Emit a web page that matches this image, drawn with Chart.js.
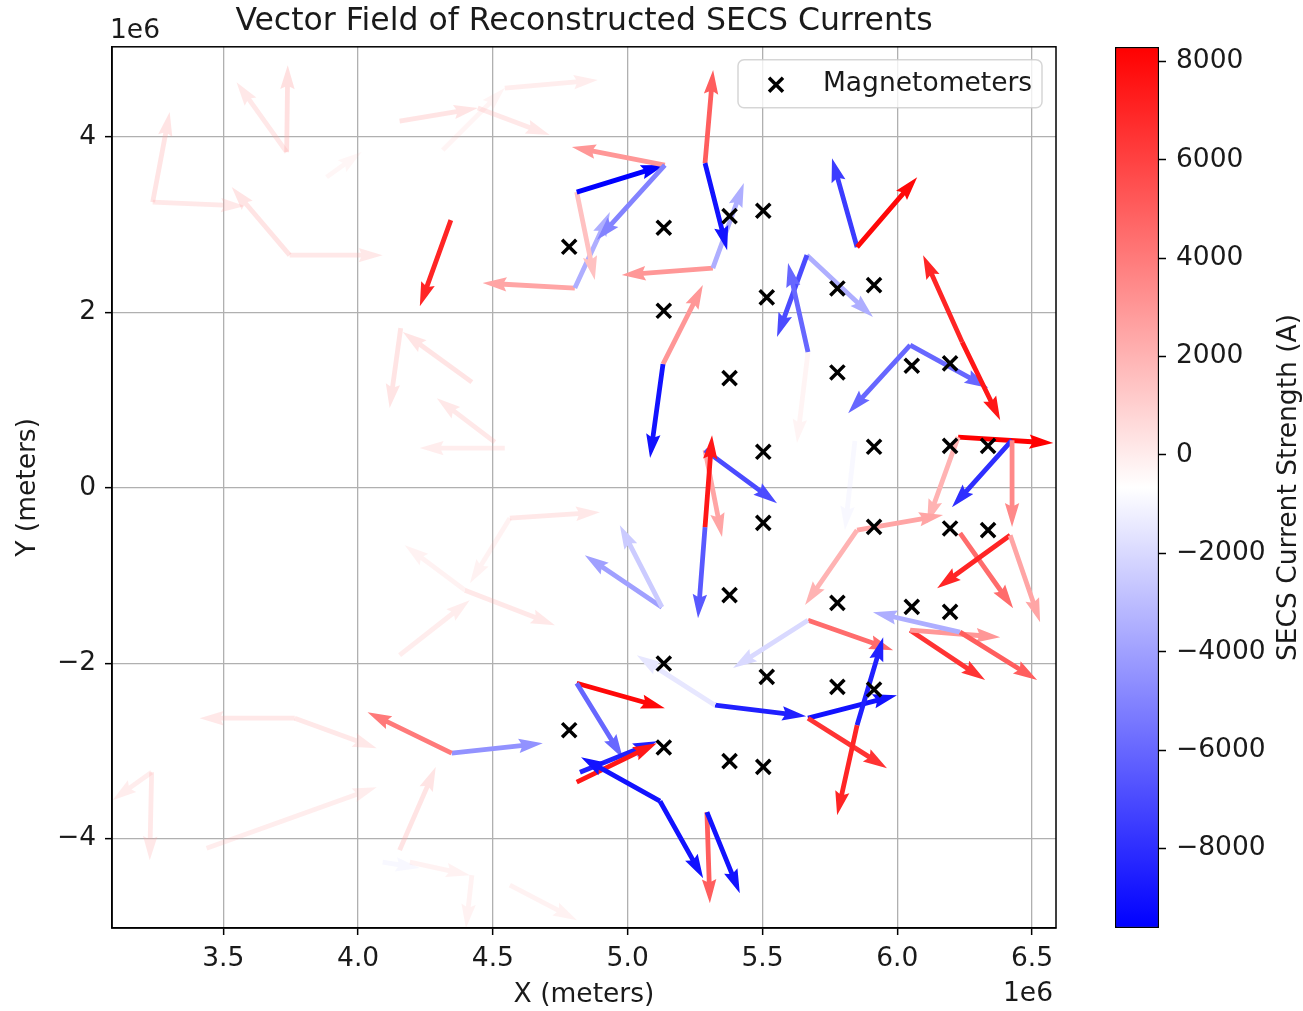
<!DOCTYPE html>
<html>
<head>
<meta charset="utf-8">
<title>Vector Field of Reconstructed SECS Currents</title>
<script src="https://cdn.jsdelivr.net/npm/chart.js@4.4.1/dist/chart.umd.min.js"></script>
<style>
    body { margin: 0; background: #fff; }
    #wrap { position: relative; width: 1303px; height: 1011px; }
    #chart { position: absolute; left: 0; top: 0; }
    #cbar { position: absolute; left: 1100px; top: 0; }
</style>
</head>
<body>
<div id="wrap">
    <canvas id="chart" width="1303" height="1011"></canvas>
    <canvas id="cbar" width="203" height="1011"></canvas>
</div>
<script>
// all positions in units of 1e6 m (axis offset "1e6", like matplotlib)
const xTicks = [3.5, 4.0, 4.5, 5.0, 5.5, 6.0, 6.5];
const yTicks = [-4, -2, 0, 2, 4];
const cbTicks = [-8000, -6000, -4000, -2000, 0, 2000, 4000, 6000, 8000];
const xMin = 3.087, xMax = 6.589;
const yMin = -5.02, yMax = 5.03;
const cbMin = -9617, cbMax = 8294;

// magnetometer stations
const magX = [4.783, 5.134, 5.378, 5.503, 5.134, 5.516, 5.778, 5.914, 5.378, 5.778, 6.054, 6.196,
    5.503, 5.914, 6.196, 6.337, 5.503, 5.914, 6.196, 6.337, 5.378, 5.778, 6.054, 6.196,
    5.134, 5.516, 5.778, 5.914, 4.783, 5.134, 5.378, 5.503];
const magY = [2.749, 2.966, 3.099, 3.160, 2.019, 2.172, 2.274, 2.312, 1.251, 1.316, 1.392, 1.419,
    0.411, 0.468, 0.479, 0.479, -0.399, -0.445, -0.463, -0.482, -1.224, -1.312, -1.357, -1.414,
    -2.004, -2.156, -2.270, -2.300, -2.764, -2.961, -3.117, -3.182];

// SECS current vectors: tail (x, y), components (u, v), strength in A, weight (opacity)
const arrowX = [3.238, 3.238, 3.746, 3.746, 3.735, 3.735, 4.154, 4.444, 4.544, 4.314, 3.883,
    4.158, 4.422, 4.507, 4.544, 4.563, 4.563, 4.396, 4.396, 4.154, 3.765, 3.765, 3.234, 3.234,
    3.438, 4.154, 4.192, 4.422, 4.563, 4.091,
    4.344, 4.804, 4.804, 4.811, 4.811, 5.138, 5.138, 5.316, 5.316, 5.131, 5.131, 5.287, 5.287,
    5.851, 5.851, 5.665, 5.665, 5.669, 5.669, 6.048, 6.048, 6.241, 6.241, 6.226, 6.226, 6.426,
    6.426, 5.287, 5.287, 5.287, 5.287, 5.843, 5.851, 5.851, 6.233, 6.419, 6.419, 5.127, 5.127,
    5.669, 5.669, 6.048, 6.048, 6.233, 6.233, 4.811, 4.811, 5.324, 5.324, 5.669, 5.669, 5.851,
    5.851, 4.347, 4.347, 4.823, 4.811, 5.120, 5.120, 5.294, 5.294];
const arrowY = [3.259, 3.259, 2.654, 2.654, 3.829, 3.829, 4.183, 4.331, 4.559, 3.852, 3.544,
    1.822, 1.206, 0.521, 0.453, -0.346, -0.346, -1.167, -1.167, -1.908, -2.627, -2.627, -3.243, -3.243,
    -4.110, -4.132, -4.269, -4.417, -4.532, -4.269,
    3.053, 2.278, 2.278, 3.373, 3.373, 3.681, 3.681, 2.506, 2.506, 1.411, 1.411, 3.703, 3.703,
    2.745, 2.745, 2.654, 2.654, 1.548, 1.548, 1.628, 1.628, 1.662, 1.662, 0.578, 0.578, 0.544,
    0.544, 0.430, 0.430, -0.448, -0.448, 0.533, -0.482, -0.482, -0.517, -0.540, -0.540, -1.361, -1.361,
    -1.509, -1.509, -1.623, -1.623, -1.646, -1.646, -2.228, -2.228, -2.479, -2.479, -2.627, -2.627, -2.707,
    -2.707, -3.026, -3.026, -3.243, -3.357, -3.574, -3.574, -3.699, -3.699];
const arrowU = [0.063, 0.342, -0.215, 0.345, 0.004, -0.186, 0.290, 0.267, 0.345, 0.230, 0.130,
    -0.041, -0.256, -0.215, -0.316, 0.334, -0.148, 0.334, -0.223, 0.260, -0.353, 0.304, -0.007, -0.145,
    0.631, 0.134, 0.223, -0.022, 0.249, 0.137,
    -0.115, -0.342, 0.130, 0.067, 0.327, -0.345, -0.252, -0.338, 0.115, 0.148, -0.048, 0.030, 0.082,
    -0.093, 0.223, 0.245, -0.111, -0.074, -0.041, -0.230, 0.290, -0.145, 0.141, 0.353, -0.115, -0.223,
    0.000, 0.063, 0.267, -0.026, 0.026, -0.037, 0.319, -0.193, 0.197, -0.271, 0.111, -0.286, -0.156,
    0.316, -0.278, 0.278, 0.334, -0.323, 0.286, 0.327, 0.171, 0.338, -0.290, 0.330, 0.293, 0.097,
    -0.074, 0.338, -0.312, 0.286, 0.297, -0.293, 0.160, 0.011, 0.122];
const arrowV = [1.027, -0.046, 0.776, 0.000, 0.992, 0.798, 0.148, -0.308, 0.091, 0.707, 0.285,
    -0.912, 0.570, 0.502, 0.000, 0.068, -0.741, -0.399, 0.513, 0.627, 0.000, -0.342, -1.004, -0.319,
    0.696, 0.947, -0.148, -0.605, -0.399, -0.068,
    -0.981, 0.057, 0.867, -1.004, 0.308, 0.205, -0.855, -0.080, 0.970, 0.901, -1.072, 1.061, -0.992,
    1.015, 0.798, -0.707, -0.935, 1.015, -1.038, -0.776, -0.490, 0.992, -0.890, -0.068, -0.981, -0.764,
    -0.992, -0.992, -0.605, -1.038, 1.049, -1.015, 0.171, -0.855, -0.855, -0.605, -0.992, 0.593, 0.935,
    -0.342, -0.547, -0.570, -0.080, 0.228, -0.547, -0.285, -0.855, -0.125, 0.570, 0.262, -0.570, 1.004,
    -1.027, 0.114, 0.468, 0.354, 0.445, 0.502, -0.878, -1.038, -0.924];
const arrowStrength = [2500, 2500, 2500, 2500, 2500, 2500, 2500, 2500, 2500, 2500, 2500,
    2500, 2500, 2500, 2500, 2500, 2500, 2500, 2500, 2500, 2500, 2500, 2500, 2500,
    2500, 2500, 2500, 2500, 2500, -3000,
    7000, 2500, -3500, 1500, -9600, 3000, -5000, 3000, -3500, 3000, -9000, 5000, -9000,
    -7500, 8000, -3500, -7000, -6000, 0, -6000, -6000, 7000, 7500, 8300, 2000, -8000,
    3500, 2500, -7000, -6500, 7500, -1500, 2500, 2000, 4500, 7000, 2500, -4000, -2500,
    4500, -2000, 6500, 3000, -3500, 5000, 8000, -6000, -8500, -1500, -9000, 6500, -8500,
    7000, -4500, 4000, -8500, 7500, -9000, -9000, 5000, -9000];
const arrowWeight = [0.3, 0.25, 0.3, 0.25, 0.35, 0.25, 0.3, 0.25, 0.2, 0.12, 0.1,
    0.3, 0.3, 0.25, 0.2, 0.25, 0.15, 0.25, 0.15, 0.2, 0.25, 0.25, 0.25, 0.2,
    0.2, 0.3, 0.15, 0.15, 0.15, 0.1,
    1, 1, 1, 1, 1, 1, 1, 1, 1, 1, 1, 1, 1,
    1, 1, 1, 1, 1, 0.6, 1, 1, 1, 1, 1, 1, 1,
    1, 1, 1, 1, 1, 0.3, 1, 1, 1, 1, 1, 1, 1,
    1, 1, 1, 1, 1, 1, 1, 1, 1, 1, 1, 1, 1,
    1, 1, 1, 1, 1, 1, 1, 1, 1];

const FONT = "'DejaVu Sans', sans-serif";
const FS = 26.5;
Chart.defaults.font.family = FONT;
Chart.defaults.color = "#1a1a1a";

// matplotlib "bwr" colormap
function bwr(v) {
    let t = (v - cbMin) / (cbMax - cbMin);
    t = Math.max(0, Math.min(1, t));
    if (t < 0.5) {
        const c = Math.round(510 * t);
        return `rgb(${c},${c},255)`;
    }
    const c = Math.round(510 * (1 - t));
    return `rgb(255,${c},${c})`;
}

const minus = (s) => String(s).replace("-", "\u2212");

function drawArrow(ctx, x0, y0, x1, y1, color, alpha) {
    const dx = x1 - x0, dy = y1 - y0;
    const L = Math.hypot(dx, dy);
    if (L < 1) return;
    const ux = dx / L, uy = dy / L;
    const nx = -uy, ny = ux;
    const w = 4.8;
    const hw = 1.5 * w, hl = 5 * w, hal = 4.5 * w;
    const pts = [[0, -w / 2], [L - hal, -w / 2], [L - hl, -hw], [L, 0], [L - hl, hw], [L - hal, w / 2], [0, w / 2]];
    ctx.globalAlpha = alpha;
    ctx.fillStyle = color;
    ctx.beginPath();
    pts.forEach(([a, b], i) => {
        const px = x0 + ux * a + nx * b, py = y0 + uy * a + ny * b;
        if (i === 0) ctx.moveTo(px, py); else ctx.lineTo(px, py);
    });
    ctx.closePath();
    ctx.fill();
}

const quiverPlugin = {
    id: "quiver",
    beforeDatasetsDraw(chart) {
        const { ctx, chartArea, scales: { x, y } } = chart;
        ctx.save();
        ctx.beginPath();
        ctx.rect(chartArea.left, chartArea.top, chartArea.width, chartArea.height);
        ctx.clip();
        for (let i = 0; i < arrowX.length; i++) {
            const x0 = x.getPixelForValue(arrowX[i]);
            const y0 = y.getPixelForValue(arrowY[i]);
            const x1 = x.getPixelForValue(arrowX[i] + arrowU[i]);
            const y1 = y.getPixelForValue(arrowY[i] + arrowV[i]);
            drawArrow(ctx, x0, y0, x1, y1, bwr(arrowStrength[i]), arrowWeight[i]);
        }
        ctx.restore();
    },
};

const framePlugin = {
    id: "frame",
    afterDraw(chart) {
        const { ctx, chartArea: a } = chart;
        ctx.save();
        ctx.strokeStyle = "#000";
        ctx.lineWidth = 1.5;
        ctx.strokeRect(a.left, a.top, a.width, a.height);

        // offset text
        ctx.fillStyle = "#1a1a1a";
        ctx.font = `${FS}px ${FONT}`;
        ctx.textBaseline = "middle";
        ctx.textAlign = "left";
        ctx.fillText("1e6", a.left - 2, 31);
        ctx.textAlign = "right";
        ctx.fillText("1e6", a.right - 3, 994);

        // legend box
        const ds = chart.data.datasets[0];
        const bx = a.right - 318, by = a.top + 13, bw = 304, bh = 48;
        ctx.globalAlpha = 0.8;
        ctx.fillStyle = "#fff";
        ctx.strokeStyle = "#cccccc";
        ctx.lineWidth = 1.5;
        ctx.beginPath();
        ctx.roundRect(bx, by, bw, bh, 6);
        ctx.fill();
        ctx.stroke();
        ctx.globalAlpha = 1;
        const mx = bx + 38, my = by + 25, r = 7;
        ctx.strokeStyle = "#000";
        ctx.lineWidth = 3.5;
        ctx.beginPath();
        ctx.moveTo(mx - r, my - r); ctx.lineTo(mx + r, my + r);
        ctx.moveTo(mx - r, my + r); ctx.lineTo(mx + r, my - r);
        ctx.stroke();
        ctx.fillStyle = "#1a1a1a";
        ctx.textAlign = "left";
        ctx.fillText(ds.label, bx + 85, by + 24);
        ctx.restore();
    },
};

const tickFont = { family: FONT, size: FS };

new Chart(document.getElementById("chart").getContext("2d"), {
    type: "scatter",
    data: {
        datasets: [{
            label: "Magnetometers",
            data: magX.map((v, i) => ({ x: v, y: magY[i] })),
            pointStyle: "crossRot",
            pointRadius: 10,
            pointBorderWidth: 3.5,
            borderColor: "#000",
            backgroundColor: "#000",
        }],
    },
    options: {
        responsive: false,
        animation: false,
        layout: { padding: { left: 0, right: 247, top: 0, bottom: 0 } },
        plugins: {
            legend: { display: false },
            tooltip: { enabled: false },
            title: {
                display: true,
                text: "Vector Field of Reconstructed SECS Currents",
                fullSize: false,
                color: "#1a1a1a",
                font: { family: FONT, size: 31.5, weight: "normal" },
                padding: { top: 3, bottom: 6 },
            },
        },
        scales: {
            x: {
                type: "linear",
                min: xMin,
                max: xMax,
                afterBuildTicks: (s) => { s.ticks = xTicks.map((v) => ({ value: v })); },
                afterFit: (s) => { s.height = 83; },
                ticks: { font: tickFont, padding: 8, maxRotation: 0, callback: (v) => v.toFixed(1) },
                grid: { color: "#b0b0b0", lineWidth: 1.3, tickColor: "#000", tickLength: 7, tickWidth: 1.5 },
                border: { color: "#000", width: 1.5 },
                title: { display: true, text: "X (meters)", font: tickFont, padding: { top: 0, bottom: 0 } },
            },
            y: {
                type: "linear",
                min: yMin,
                max: yMax,
                afterBuildTicks: (s) => { s.ticks = yTicks.map((v) => ({ value: v })); },
                afterFit: (s) => { s.width = 112; },
                ticks: { font: tickFont, padding: 9, callback: (v) => minus(v) },
                grid: { color: "#b0b0b0", lineWidth: 1.3, tickColor: "#000", tickLength: 7, tickWidth: 1.5 },
                border: { color: "#000", width: 1.5 },
                title: { display: true, text: "Y (meters)", font: tickFont, padding: { top: 12, bottom: 0 } },
            },
        },
    },
    plugins: [quiverPlugin, framePlugin],
});

// colorbar
const cbLabelPlugin = {
    id: "cbLabel",
    afterDraw(chart) {
        const { ctx, chartArea: a } = chart;
        ctx.save();
        ctx.translate(189, (a.top + a.bottom) / 2);
        ctx.rotate(-Math.PI / 2);
        ctx.fillStyle = "#1a1a1a";
        ctx.font = `${FS}px ${FONT}`;
        ctx.textAlign = "center";
        ctx.textBaseline = "middle";
        ctx.fillText("SECS Current Strength (A)", 0, 0);
        ctx.restore();
    },
};

new Chart(document.getElementById("cbar").getContext("2d"), {
    type: "bar",
    data: {
        labels: [""],
        datasets: [{
            data: [[cbMin, cbMax]],
            backgroundColor: (c) => {
                const area = c.chart.chartArea;
                if (!area) return "#fff";
                const g = c.chart.ctx.createLinearGradient(0, area.bottom, 0, area.top);
                g.addColorStop(0, "rgb(0,0,255)");
                g.addColorStop(0.5, "rgb(255,255,255)");
                g.addColorStop(1, "rgb(255,0,0)");
                return g;
            },
            borderColor: "#000",
            borderWidth: 1.5,
            borderSkipped: false,
            barPercentage: 1,
            categoryPercentage: 1,
        }],
    },
    options: {
        responsive: false,
        animation: false,
        layout: { padding: { left: 15, top: 47, bottom: 83, right: 0 } },
        plugins: { legend: { display: false }, tooltip: { enabled: false } },
        scales: {
            x: { display: false },
            y: {
                position: "right",
                min: cbMin,
                max: cbMax,
                afterBuildTicks: (s) => { s.ticks = cbTicks.map((v) => ({ value: v })); },
                afterFit: (s) => { s.width = 144; },
                ticks: { font: tickFont, padding: 10, callback: (v) => minus(v) },
                grid: { drawOnChartArea: false, tickColor: "#000", tickLength: 7, tickWidth: 1.5 },
                border: { display: false },
            },
        },
    },
    plugins: [cbLabelPlugin],
});
</script>
</body>
</html>
